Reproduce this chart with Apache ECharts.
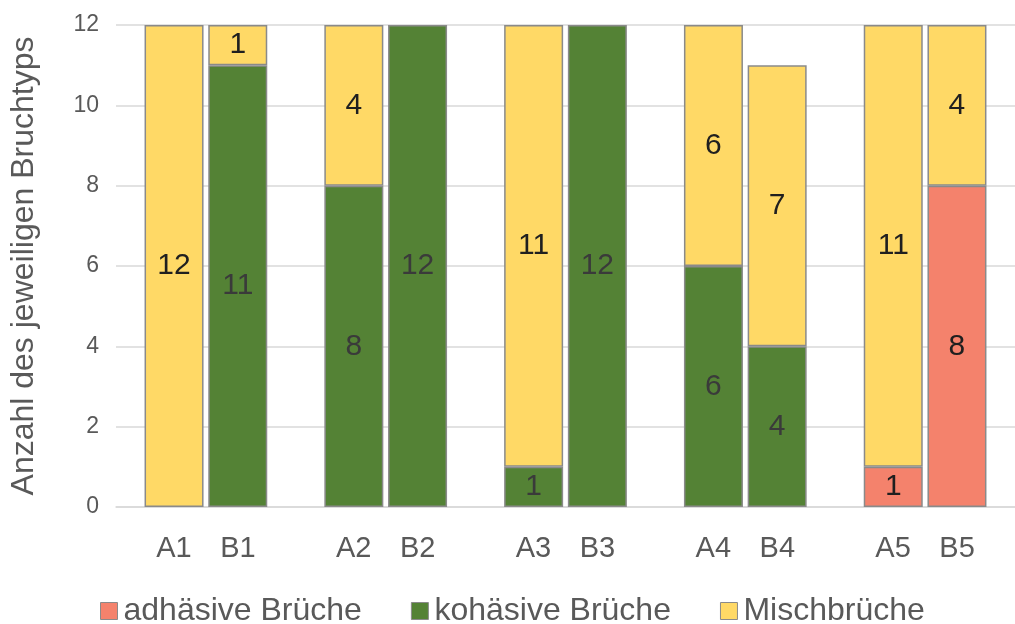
<!DOCTYPE html>
<html>
<head>
<meta charset="utf-8">
<script src="https://cdn.jsdelivr.net/npm/echarts@6/dist/echarts.min.js"></script>
<style>
  html, body { margin: 0; padding: 0; background: #ffffff; }
  #chart { width: 1015px; height: 624px; }
</style>
</head>
<body>
<div id="chart"></div>
<script>
// Sample groups 1–5, each with an A and a B specimen series
const groups = ['1', '2', '3', '4', '5'];
const labelsA = ['A1', 'A2', 'A3', 'A4', 'A5'];
const labelsB = ['B1', 'B2', 'B3', 'B4', 'B5'];

// Number of fractures per type (A specimens)
const adhesiveA = [0, 0, 0, 0, 1];
const cohesiveA = [0, 8, 1, 6, 0];
const mixedA    = [12, 4, 11, 6, 11];

// Number of fractures per type (B specimens)
const adhesiveB = [0, 0, 0, 0, 8];
const cohesiveB = [11, 12, 12, 4, 0];
const mixedB    = [1, 0, 0, 7, 4];

const yTicks = { min: 0, max: 12, interval: 2 };

const seriesNames = ['adhäsive Brüche', 'kohäsive Brüche', 'Mischbrüche'];
const colors = ['#F4826C', '#548235', '#FFD966'];
const labelColors = ['#1f1f1f', '#3a3a3a', '#1f1f1f'];

const FONT = 'Liberation Sans, Arial, sans-serif';

function makeSeries(name, values, stack, idx) {
  return {
    name: name,
    type: 'bar',
    stack: stack,
    barWidth: 59,
    barGap: '8%',
    data: values.map(v => (v === 0 ? '-' : v)),
    itemStyle: {
      color: colors[idx],
      borderColor: '#8a8a8a',
      borderWidth: 1.5
    },
    label: {
      show: true,
      position: 'inside',
      fontFamily: FONT,
      fontSize: 30,
      color: labelColors[idx],
      formatter: p => (p.value ? String(p.value) : '')
    },
    emphasis: { disabled: true }
  };
}

const chart = echarts.init(document.getElementById('chart'), null, { renderer: 'canvas' });

chart.setOption({
  animation: false,
  backgroundColor: '#ffffff',
  textStyle: { fontFamily: FONT },
  grid: {
    left: 113,
    top: 25,
    width: 905,
    bottom: 117,
    containLabel: false
  },
  legend: {
    data: seriesNames,
    left: 95,
    top: 590,
    itemWidth: 17,
    itemHeight: 17,
    itemGap: 49,
    icon: 'rect',
    itemStyle: { borderColor: '#8a8a8a', borderWidth: 1 },
    textStyle: { fontFamily: FONT, fontSize: 32, color: '#595959', padding: [0, 0, 0, 1] }
  },
  xAxis: {
    type: 'category',
    data: groups,
    axisLine: { show: true, lineStyle: { color: '#d9d9d9', width: 1.5 } },
    axisTick: { show: false },
    axisLabel: {
      margin: 27,
      formatter: (v, i) => '{a|' + labelsA[i] + '}{b|' + labelsB[i] + '}',
      rich: {
        a: { width: 64, align: 'center', fontSize: 29, fontFamily: FONT, color: '#595959' },
        b: { width: 64, align: 'center', fontSize: 29, fontFamily: FONT, color: '#595959' }
      }
    }
  },
  yAxis: {
    type: 'value',
    min: yTicks.min,
    max: yTicks.max,
    interval: yTicks.interval,
    name: 'Anzahl des jeweiligen Bruchtyps',
    nameLocation: 'middle',
    nameGap: 76,
    nameTextStyle: { fontFamily: FONT, fontSize: 32, color: '#595959' },
    axisLine: { show: false },
    axisTick: { show: false },
    axisLabel: { margin: 17, fontFamily: FONT, fontSize: 23, color: '#595959' },
    splitLine: { lineStyle: { color: '#d9d9d9', width: 1.5 } }
  },
  series: [
    makeSeries(seriesNames[0], adhesiveA, 'A', 0),
    makeSeries(seriesNames[1], cohesiveA, 'A', 1),
    makeSeries(seriesNames[2], mixedA, 'A', 2),
    makeSeries(seriesNames[0], adhesiveB, 'B', 0),
    makeSeries(seriesNames[1], cohesiveB, 'B', 1),
    makeSeries(seriesNames[2], mixedB, 'B', 2)
  ]
});
</script>
</body>
</html>
